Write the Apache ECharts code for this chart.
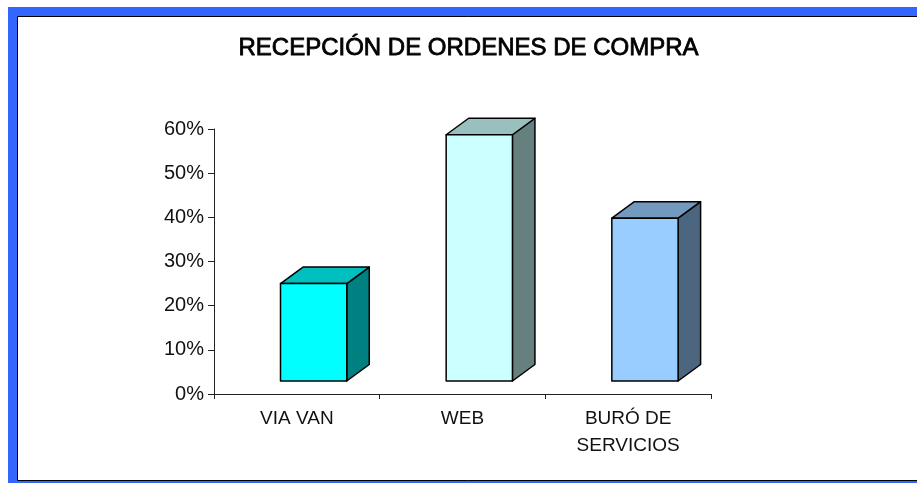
<!DOCTYPE html>
<html><head><meta charset="utf-8">
<style>html,body{margin:0;padding:0;background:#fff}#c{width:917px;height:483px}</style>
<script src="https://cdn.jsdelivr.net/npm/echarts@6/dist/echarts.min.js"></script>
</head><body><div id="c"></div>
<script>
const chartTitle = 'RECEPCIÓN DE ORDENES DE COMPRA';
const categories = ['VIA VAN', 'WEB', 'BURÓ DE\nSERVICIOS'];
const values = [25, 58.7, 39.8];
const frontColors = ['#00FFFF', '#CCFFFF', '#99CCFF'];
const topColors = ['#00BFBF', '#99BFBF', '#7399BF'];
const sideColors = ['#008080', '#668080', '#4D6680'];
const yTicks = { min: 0, max: 60, interval: 10 };

const font = '"Liberation Sans", Arial, sans-serif';
const ink = '#111';
const chart = echarts.init(document.getElementById('c'), null, { renderer: 'canvas' });

function renderBar(params, api) {
  const i = api.value(0);
  const base = api.coord([i, 0]);
  const top = api.coord([i, api.value(1)]);
  const bw = api.size([1, 0])[0] * 0.4;
  const shiftX = 16.8, lift = -13, dx = 22.5, dy = -16.5;
  const l = base[0] - bw / 2 + shiftX, r = l + bw;
  const b = base[1] + lift, t = top[1];
  const line = { stroke: '#000', lineWidth: 1.5, lineJoin: 'round' };
  const poly = (points, fill) => ({
    type: 'polygon', shape: { points }, style: Object.assign({ fill }, line)
  });
  return {
    type: 'group',
    children: [
      poly([[r, t], [r + dx, t + dy], [r + dx, b + dy], [r, b]], sideColors[i]),
      poly([[l, t], [l + dx, t + dy], [r + dx, t + dy], [r, t]], topColors[i]),
      poly([[l, t], [r, t], [r, b], [l, b]], frontColors[i])
    ]
  };
}

chart.setOption({
  animation: false,
  backgroundColor: '#fff',
  title: {
    text: chartTitle, left: 463.5, top: 31, textAlign: 'center',
    textStyle: { fontFamily: font, fontSize: 24, fontWeight: 'normal', color: '#000',
      textBorderColor: '#000', textBorderWidth: 0.8 }
  },
  graphic: [
    { type: 'rect', silent: true, z: -1, shape: { x: 8, y: 7, width: 909, height: 476 }, style: { fill: '#3366FF' } },
    { type: 'rect', silent: true, z: -1, shape: { x: 17.5, y: 16.5, width: 910, height: 464 }, style: { fill: '#fff', stroke: '#000', lineWidth: 1 } }
  ],
  grid: { left: 214, top: 129, width: 497, height: 265, containLabel: false },
  xAxis: {
    type: 'category', data: categories,
    axisLine: { lineStyle: { color: '#222', width: 1 } },
    axisTick: { show: true, length: 5, alignWithLabel: false, lineStyle: { color: '#222' } },
    axisLabel: { fontFamily: font, fontSize: 19, color: ink, margin: 11, lineHeight: 27, interval: 0 }
  },
  yAxis: {
    type: 'value', min: yTicks.min, max: yTicks.max, interval: yTicks.interval,
    axisLine: { show: true, lineStyle: { color: '#222', width: 1 } },
    axisTick: { show: true, length: 6, lineStyle: { color: '#222' } },
    splitLine: { show: false },
    axisLabel: { fontFamily: font, fontSize: 20, color: ink, margin: 10, formatter: '{value}%' }
  },
  series: [{
    type: 'custom', renderItem: renderBar, clip: false,
    encode: { x: 0, y: 1 },
    data: values.map((v, i) => [i, v])
  }]
});
</script></body></html>
